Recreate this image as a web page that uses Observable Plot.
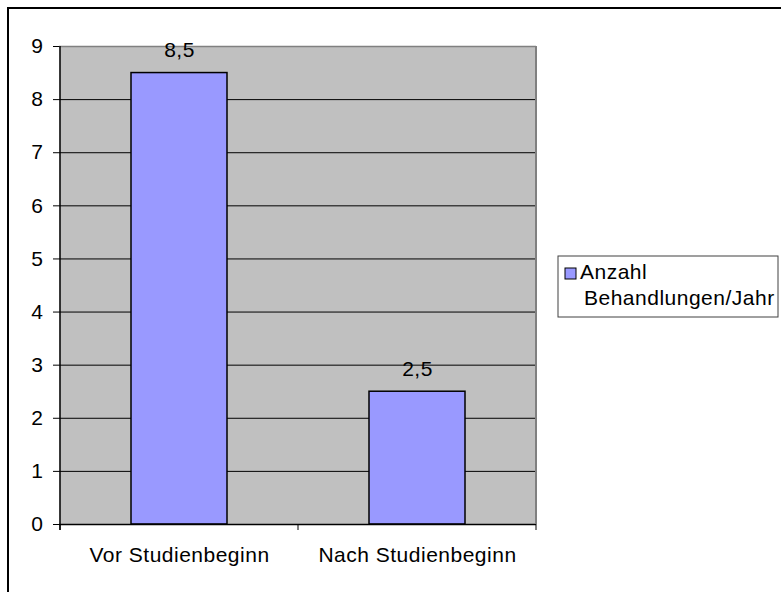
<!DOCTYPE html>
<html>
<head>
<meta charset="utf-8">
<script src="https://cdn.jsdelivr.net/npm/d3@7"></script>
<script src="https://cdn.jsdelivr.net/npm/@observablehq/plot@0.6"></script>
<style>
  html, body { margin: 0; padding: 0; background: white; }
  svg { display: block; }
  svg text { letter-spacing: 0.5px; }
</style>
</head>
<body>
<div id="chart"></div>
<script>
const categories = ["Vor Studienbeginn", "Nach Studienbeginn"];
const values = [8.5, 2.5];
const valueLabels = ["8,5", "2,5"];
const yTicks = [0, 1, 2, 3, 4, 5, 6, 7, 8, 9];
const legendLines = ["Anzahl", "Behandlungen/Jahr"];

const data = categories.map((c, i) => ({cat: c, value: values[i], label: valueLabels[i]}));
const font = "'Liberation Sans', Arial, sans-serif";

const plot = Plot.plot({
  width: 781,
  height: 592,
  marginLeft: 59,
  marginRight: 245,
  marginTop: 46,
  marginBottom: 68,
  style: {fontFamily: font, fontSize: "21px", background: "white", color: "black", overflow: "visible"},
  x: {domain: categories, padding: 0, axis: null, label: null},
  y: {domain: [0, 9], axis: null, label: null},
  marks: [
    Plot.frame({fill: "#C0C0C0", stroke: null}),
    Plot.ruleY(yTicks.slice(1, -1), {stroke: "black", strokeWidth: 1}),
    Plot.ruleY([yTicks[yTicks.length - 1]], {stroke: "#808080", strokeWidth: 1.5}),
    Plot.barY(data, {x: "cat", y: "value", fill: "#9999FF", stroke: "black", strokeWidth: 1.5, insetLeft: 71, insetRight: 71}),
    Plot.text(data, {x: "cat", y: "value", text: "label", dy: -16, lineAnchor: "bottom", fill: "black", fontSize: 21}),
    Plot.ruleY([0], {stroke: "black", strokeWidth: 1.5}),
    Plot.axisY({ticks: yTicks, tickSize: 6, tickPadding: 10, tickFormat: d => String(d), fontSize: 21, stroke: "black", label: null}),
    Plot.axisX({tickSize: 0, tickPadding: 23, fontSize: 21, label: null})
  ]
});

const svg = d3.select(plot);
const xs = plot.scale("x");
const ys = plot.scale("y");
const y0 = ys.apply(0), yTop = ys.apply(9);
const left = xs.apply(categories[0]);
const bw = xs.bandwidth;
const right = xs.apply(categories[categories.length - 1]) + bw;

// plot area borders
svg.append("line").attr("x1", right).attr("x2", right).attr("y1", yTop).attr("y2", y0)
  .attr("stroke", "#808080").attr("stroke-width", 2);
svg.append("line").attr("x1", left).attr("x2", left).attr("y1", yTop).attr("y2", y0 + 6)
  .attr("stroke", "black").attr("stroke-width", 1.5);
// category boundary ticks
const bounds = categories.map(c => xs.apply(c)).concat([right]);
svg.selectAll(null).data(bounds).join("line")
  .attr("x1", d => d).attr("x2", d => d).attr("y1", y0).attr("y2", y0 + 6)
  .attr("stroke", "black").attr("stroke-width", 1);

// outer frame
svg.append("rect").attr("x", 8).attr("y", 8).attr("width", 800).attr("height", 600)
  .attr("fill", "none").attr("stroke", "black").attr("stroke-width", 2);

// legend
const lg = svg.append("g").attr("font-family", font).attr("font-size", 21).attr("text-anchor", "start");
lg.append("rect").attr("x", 558).attr("y", 256).attr("width", 220).attr("height", 61)
  .attr("fill", "white").attr("stroke", "#404040").attr("stroke-width", 1);
lg.append("rect").attr("x", 565).attr("y", 268).attr("width", 11).attr("height", 11)
  .attr("fill", "#9999FF").attr("stroke", "black").attr("stroke-width", 1);
lg.append("text").attr("x", 580).attr("y", 279).text(legendLines[0]);
lg.append("text").attr("x", 584).attr("y", 305).text(legendLines[1]);

document.getElementById("chart").appendChild(plot);
</script>
</body>
</html>
